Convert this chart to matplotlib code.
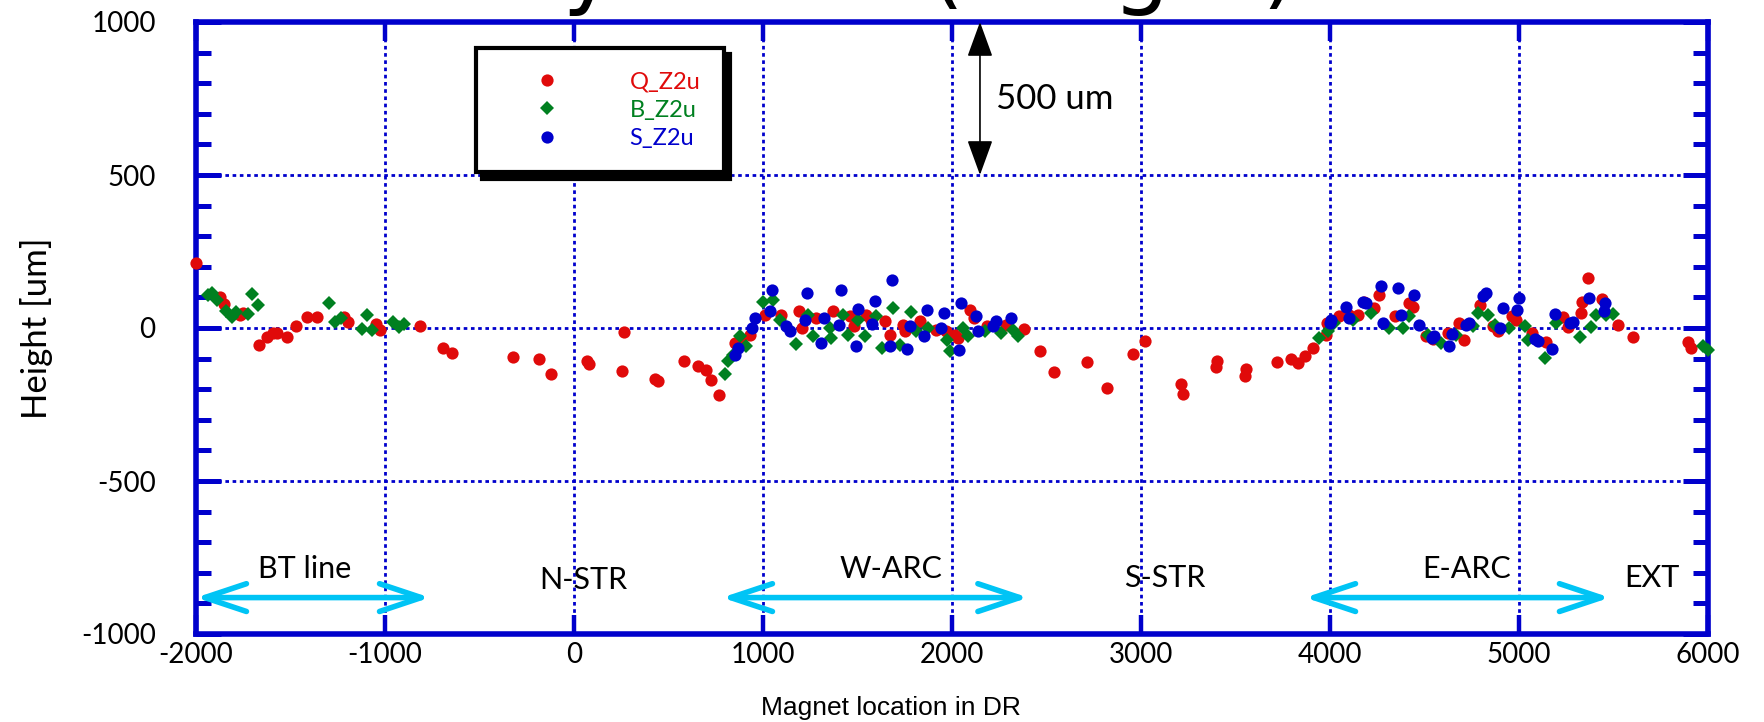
import matplotlib
matplotlib.use("Agg")
import matplotlib.pyplot as plt
from matplotlib.ticker import MultipleLocator, NullLocator

plt.rcParams['font.family'] = ['Lato', 'DejaVu Sans']
plt.rcParams['axes.unicode_minus'] = False

# ---------------- data ----------------
q_x = [-2000, -1871, -1854, -1766, -1752, -1669, -1625, -1590, -1569, -1516, -1470, -1414, -1361,
       -1217, -1194, -1047, -1026, -815, -695, -646, -322, -185, -120, 69, 80, 262, 255, 426, 445,
       580, 656, 697, 726, 768, 850, 876, 929, 1009, 1097, 1189, 1208, 1282, 1370, 1459, 1480,
       1547, 1573, 1644, 1670, 1741, 1749, 1829, 1917, 1970, 2014, 2032, 2094, 2115, 2185, 2288,
       2379, 2464, 2538, 2716, 2821, 2958, 3023, 3214, 3220, 3397, 3403, 3549, 3558, 3718, 3794,
       3829, 3869, 3908, 3979, 3982, 4049, 4102, 4146, 4182, 4235, 4257, 4346, 4420, 4441, 4508,
       4543, 4623, 4684, 4711, 4794, 4861, 4887, 4963, 4986, 5070, 5145, 5233, 5259, 5330, 5335,
       5365, 5441, 5524, 5603, 5894, 5912]
q_y = [211, 102, 78, 42, 49, -55, -30, -16, -16, -30, 7, 36, 36,
       36, 20, 12, -8, 7, -64, -82, -95, -100, -150, -108, -119, -13, -139, -166, -172,
       -109, -125, -138, -171, -219, -49, -36, -22, 44, 44, 54, 0, 33, 54, 38, 8,
       44, 27, 22, -22, 11, -11, 22, -5, -11, -22, -33, 60, 33, 5, 11,
       -3, -76, -144, -112, -196, -84, -41, -182, -215, -129, -109, -156, -133, -112, -101,
       -116, -90, -65, -22, 16, 38, 44, 44, 84, 65, 109, 38, 82, 69, -27,
       -36, -16, 16, -38, 76, 5, -11, 38, 27, -16, -47, 36, 2, 49, 84,
       165, 96, 11, -29, -45, -64]

b_x = [-1938, -1915, -1889, -1840, -1810, -1787, -1727, -1704, -1674, -1294, -1264, -1234, -1123,
       -1093, -1069, -956, -924, -900, 800, 815, 841, 877, 912, 1000, 1053, 1088, 1176, 1238,
       1265, 1353, 1361, 1423, 1450, 1503, 1538, 1600, 1631, 1688, 1723, 1785, 1811, 1873, 1975,
       1990, 2058, 2085, 2173, 2261, 2323, 2349, 3944, 3988, 4023, 4120, 4217, 4314, 4384, 4420,
       4517, 4587, 4667, 4755, 4781, 4834, 4875, 4949, 5030, 5048, 5135, 5198, 5321, 5383, 5409,
       5462, 5497, 5974, 6000]
b_y = [107, 116, 93, 56, 36, 52, 47, 110, 74, 83, 20, 34, -4,
       42, -8, 20, 3, 14, -150, -109, -87, -27, -60, 84, 90, 27, -51, 44,
       -27, 0, -33, 44, -22, 27, -27, 38, -65, 65, -54, 51, -11, 0, -38,
       -76, 0, -27, -11, -16, -5, -27, -33, -11, 16, 27, 49, 0, 0, 38,
       -22, -49, -22, 5, 49, 44, 11, 0, 5, -38, -97, 15, -29, 2, 44,
       44, 46, -60, -72]

s_x = [850, 868, 944, 956, 1035, 1048, 1123, 1141, 1220, 1233, 1309, 1321, 1402, 1414, 1490, 1503,
       1578, 1591, 1670, 1682, 1762, 1776, 1850, 1867, 1944, 1958, 2037, 2049, 2125, 2138, 2217,
       2235, 2311, 4000, 4005, 4085, 4102, 4173, 4190, 4270, 4282, 4358, 4376, 4446, 4469, 4540,
       4552, 4631, 4645, 4720, 4734, 4808, 4825, 4914, 4902, 5000, 4992, 5083, 5100, 5176, 5189,
       5268, 5286, 5370, 5453, 5448]
s_y = [-87, -65, 0, 33, 54, 125, 8, -11, 25, 114, -49, 33, 11, 125, -58, 62,
       14, 87, -58, 158, -67, 5, -27, 60, 0, 49, -73, 82, 40, -11, 8,
       22, 33, 16, 27, 69, 33, 84, 82, 136, 16, 131, 44, 109, 11, -33,
       -27, -60, -18, 11, 16, 103, 114, 65, 0, 98, 58, -35, -41, -69, 46,
       15, 21, 99, 81, 56]

series_names = ['Q_Z2u', 'B_Z2u', 'S_Z2u']
x_ticks = [-2000, -1000, 0, 1000, 2000, 3000, 4000, 5000, 6000]
x_tick_labels = ['-2000', '-1000', '0', '1000', '2000', '3000', '4000', '5000', '6000']
y_ticks = [-1000, -500, 0, 500, 1000]
y_tick_labels = ['-1000', '-500', '0', '500', '1000']

regions = ['BT line', 'N-STR', 'W-ARC', 'S-STR', 'E-ARC', 'EXT']
region_x = [-1423, 47, 1675, 3127, 4725, 5704]
region_y = [-787, -823, -787, -817, -787, -816]
arrow_start = [-2000, 783, 3868]
arrow_end = [-762, 2404, 5481]
arrow_level = -881

# ---------------- style ----------------
RED = '#e00a0a'
GREEN = '#008020'
BLUE = '#0000cc'
FRAME = '#0000cc'
CYAN = '#00c4f5'

W, H = 1764, 722
fig = plt.figure(figsize=(W / 100, H / 100), dpi=100)
ax = fig.add_axes([196 / W, 88 / H, 1512 / W, 612 / H])

ax.set_xlim(-2000, 6000)
ax.set_ylim(-1000, 1000)

ax.plot(q_x, q_y, 'o', color=RED, ms=8.8, mew=0, zorder=4, clip_on=False, label=series_names[0])
ax.plot(b_x, b_y, 'D', color=GREEN, ms=7.2, mew=0, zorder=4, clip_on=False, label=series_names[1])
ax.plot(s_x, s_y, 'o', color=BLUE, ms=8.8, mew=0, zorder=4, clip_on=False, label=series_names[2])

for sp in ax.spines.values():
    sp.set_color(FRAME)
    sp.set_linewidth(4)
    sp.set_zorder(3)

ax.set_xticks(x_ticks)
ax.set_xticklabels(x_tick_labels)
ax.set_yticks(y_ticks)
ax.set_yticklabels(y_tick_labels)
ax.xaxis.set_minor_locator(NullLocator())
ax.yaxis.set_minor_locator(MultipleLocator(100))
ax.tick_params(axis='x', which='major', direction='in', length=14, width=3.2, color=FRAME,
               top=True, bottom=True, labelsize=20, pad=6)
ax.tick_params(axis='y', which='major', direction='in', length=18, width=3.6, color=FRAME,
               left=True, right=True, labelsize=20, pad=29)
ax.tick_params(axis='y', which='minor', direction='in', length=11, width=3.6, color=FRAME,
               left=True, right=True)

ax.grid(True, which='major', color=FRAME, linestyle=(0, (1.3, 1.3)), linewidth=2.0)

# legend
leg = ax.legend(loc='upper left', bbox_to_anchor=(476 / W, 1 - 48 / H), bbox_transform=fig.transFigure,
                borderaxespad=0, fontsize=17, frameon=True, fancybox=False, edgecolor='black',
                shadow={'color': 'black', 'alpha': 1, 'ox': 4.5, 'oy': -4.5},
                handlelength=4, handletextpad=1.5, borderpad=1.0, labelspacing=0.3,
                labelcolor=[RED, GREEN, BLUE], framealpha=1)
leg.get_frame().set_linewidth(3)
leg.set_zorder(5)

# region arrows and labels
for xs, xe in zip(arrow_start, arrow_end):
    ax.annotate('', xy=(xe, arrow_level), xytext=(xs, arrow_level), annotation_clip=False,
                arrowprops=dict(arrowstyle='<->,head_length=1.5,head_width=0.5', color=CYAN,
                                lw=4, shrinkA=0, shrinkB=0, mutation_scale=20), zorder=4)
for name, rx, ry in zip(regions, region_x, region_y):
    ax.text(rx, ry, name, ha='center', va='center', fontsize=22, color='black', zorder=5)

# 500 um scale arrow
ax.annotate('', xy=(2148, 1000), xytext=(2148, 500), annotation_clip=False,
            arrowprops=dict(arrowstyle='<|-|>,head_length=1.1,head_width=0.4', color='black',
                            lw=1.2, shrinkA=0, shrinkB=0, mutation_scale=20), zorder=5)
ax.text(2233, 748, '500 um', ha='left', va='center', fontsize=25, color='black')

# axis labels
fig.text(37 / W, (H - 328) / H, 'Height [um]', rotation=90, ha='center', va='center', fontsize=25)
fig.text(891 / W, 1 - 708 / H, 'Magnet location in DR', ha='center', va='center', fontsize=19,
         family=['Liberation Sans', 'DejaVu Sans'])

# title (cut off at top of the slide, as in the reference)
fig.text(302 / W, 1 + 3 / H, 'Survey result (Height)', ha='left', va='baseline', fontsize=65,
         family=['DejaVu Sans'])

fig.savefig('out.png', dpi=100)
